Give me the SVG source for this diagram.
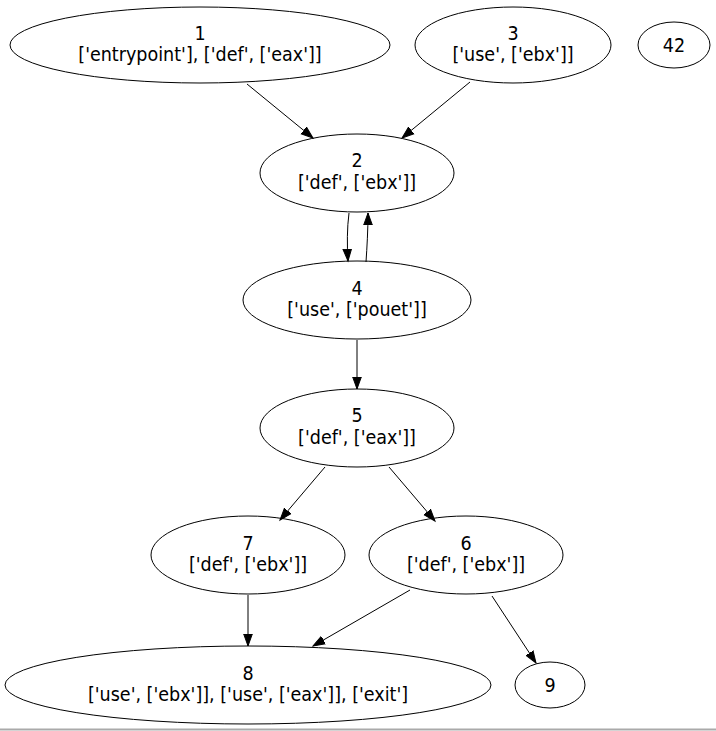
<svg xmlns="http://www.w3.org/2000/svg" width="716" height="731" viewBox="0 0 716 731">
<style>
.n ellipse{fill:none;stroke:#000;stroke-width:1}
.n text{font-family:"DejaVu Sans Condensed","DejaVu Sans",sans-serif;font-stretch:condensed;font-size:19.5px;text-anchor:middle;fill:#000}
#edges path{fill:none;stroke:#000;stroke-width:1;marker-end:url(#ah)}
</style>
<defs>
<marker id="ah" markerUnits="userSpaceOnUse" markerWidth="14" markerHeight="12" refX="12" refY="0" viewBox="0 -6 14 12" orient="auto">
<path d="M0,-4.3 L12,0 L0,4.3 z" fill="#000" stroke="#000" stroke-width="1"/>
</marker>
</defs>
<rect width="716" height="731" fill="#fff"/>
<line x1="0" y1="729.5" x2="716" y2="729.5" stroke="#aaa" stroke-width="2"/>
<g id="edges">
<path d="M247,84 L313,138"/>
<path d="M470,82 L402,138"/>
<path d="M349,213 C347,228 347,245 348,261"/>
<path d="M366,262 C367,247 368,230 368,213"/>
<path d="M357,340 L357,389"/>
<path d="M325,467 L280,520"/>
<path d="M389,467 L435,521"/>
<path d="M248,595 L248,646"/>
<path d="M410,590 L313,646"/>
<path d="M492,596 L536,663"/>
</g>
<g id="n1" class="n"><ellipse cx="200" cy="45" rx="190" ry="38"/><text x="200" y="40">1</text><text x="200" y="61">['entrypoint'], ['def', ['eax']]</text></g>
<g id="n3" class="n"><ellipse cx="513" cy="45" rx="98" ry="38"/><text x="513" y="40">3</text><text x="513" y="61">['use', ['ebx']]</text></g>
<g id="n42" class="n"><ellipse cx="674" cy="45" rx="36" ry="23"/><text x="674" y="52">42</text></g>
<g id="n2" class="n"><ellipse cx="357" cy="173" rx="97" ry="39"/><text x="357" y="167">2</text><text x="357" y="189">['def', ['ebx']]</text></g>
<g id="n4" class="n"><ellipse cx="357" cy="300" rx="114" ry="39"/><text x="357" y="295">4</text><text x="357" y="316">['use', ['pouet']]</text></g>
<g id="n5" class="n"><ellipse cx="357" cy="428" rx="97" ry="39"/><text x="357" y="422">5</text><text x="357" y="444">['def', ['eax']]</text></g>
<g id="n7" class="n"><ellipse cx="248" cy="555" rx="97" ry="39"/><text x="248" y="550">7</text><text x="248" y="571">['def', ['ebx']]</text></g>
<g id="n6" class="n"><ellipse cx="466" cy="555" rx="97" ry="39"/><text x="466" y="550">6</text><text x="466" y="571">['def', ['ebx']]</text></g>
<g id="n8" class="n"><ellipse cx="248" cy="685" rx="243" ry="39"/><text x="248" y="680">8</text><text x="248" y="701">['use', ['ebx']], ['use', ['eax']], ['exit']</text></g>
<g id="n9" class="n"><ellipse cx="550" cy="685" rx="35" ry="23"/><text x="550" y="692">9</text></g>
</svg>
